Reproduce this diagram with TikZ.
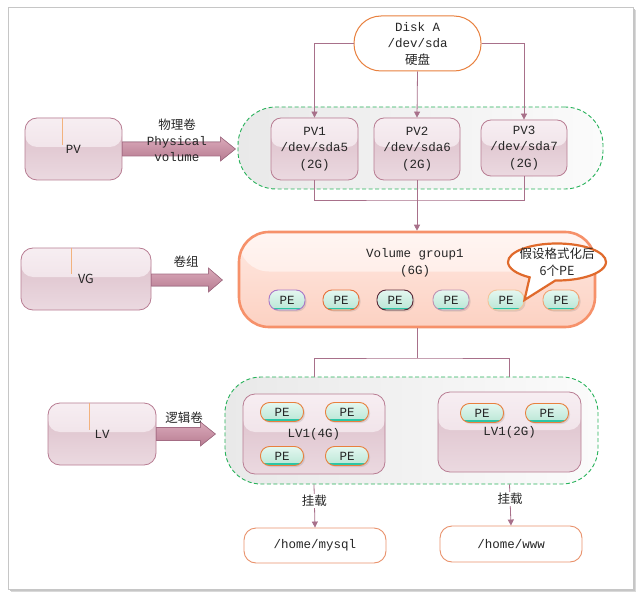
\documentclass[tikz,border=0pt]{standalone}
\usepackage{fontspec}
\setmonofont{Liberation Mono}
\newfontfamily\cjk{Noto Sans CJK SC}
\usetikzlibrary{arrows.meta,shapes.callouts,shadows}
\definecolor{textcol}{HTML}{262626}
\definecolor{conncol}{HTML}{A8708A}
\definecolor{pinkborder}{HTML}{B87D93}
\definecolor{pinkA}{HTML}{DABCC7}
\definecolor{pinkB}{HTML}{EBD9E0}
\definecolor{pinkhiA}{HTML}{F7EEF2}
\definecolor{pinkhiB}{HTML}{EBDAE1}
\definecolor{greencol}{HTML}{27B25A}
\definecolor{contA}{HTML}{E9E9E9}
\definecolor{contB}{HTML}{FBFBFB}
\definecolor{vgborder}{HTML}{F6916A}
\definecolor{vgA}{HTML}{FFE9E2}
\definecolor{vgB}{HTML}{FCD1C2}
\definecolor{peA}{HTML}{E4F7F0}
\definecolor{peB}{HTML}{B9E6D5}
\definecolor{peline}{HTML}{2CC6A6}
\definecolor{orangeline}{HTML}{E8803E}
\definecolor{mountcol}{HTML}{E9926C}
\definecolor{fatA}{HTML}{DAAABA}
\definecolor{fatB}{HTML}{B77B91}
\definecolor{fatborder}{HTML}{A46C84}
\definecolor{tickcol}{HTML}{F2B27E}
\definecolor{calloutcol}{HTML}{E06A2C}
\definecolor{peb1}{HTML}{A878C8}
\definecolor{peb2}{HTML}{E8703A}
\definecolor{peb3}{HTML}{5A2838}
\definecolor{peb4}{HTML}{C092B2}
\definecolor{peb5}{HTML}{F2C49A}
\definecolor{peb6}{HTML}{F2A274}
\tikzset{
  txt/.style={text=textcol, font=\fontsize{12.5}{16.5}\selectfont\ttfamily, align=center, inner sep=0pt},
  cjktxt/.style={text=textcol, font=\fontsize{12.5}{16.5}\selectfont\cjk, align=center, inner sep=0pt},
  pinkbox/.style={txt, draw=pinkborder, line width=0.8pt, rounded corners=#1,
    top color=pinkA, bottom color=pinkB,
    path picture={\shade[top color=pinkhiA, bottom color=pinkhiB]
      (path picture bounding box.north west) rectangle ([yshift=2pt]path picture bounding box.east);}},
  pinkbox/.default=10pt,
  cont/.style={draw=greencol, dash pattern=on 4pt off 2.5pt, line width=0.9pt,
    rounded corners=#1, left color=contA, right color=contB, inner sep=0pt},
  pe/.style={txt, draw=#1, line width=0.9pt, rounded corners=9pt,
    minimum width=36pt, minimum height=20pt, top color=peA, bottom color=peB,
    drop shadow={shadow xshift=1.5pt, shadow yshift=-1.5pt, opacity=0.22},
    path picture={\draw[peline, line width=1.4pt]
      ([yshift=1.6pt]path picture bounding box.south west) -- ([yshift=1.6pt]path picture bounding box.south east);}},
  lvpe/.style={pe=orangeline, minimum width=43pt, minimum height=19pt},
  mount/.style={txt, draw=mountcol, line width=0.9pt, rounded corners=12pt, fill=white,
    minimum width=142pt, minimum height=35pt},
  conn/.style={draw=conncol, line width=0.8pt},
  arr/.style={conn, -{Triangle[length=6pt,width=6pt]}},
  fatarrow/.style={draw=fatborder, line width=0.6pt, top color=fatA, bottom color=fatB},
  tickline/.style={draw=tickcol, line width=0.6pt},
}
\begin{document}
\begin{tikzpicture}[x=1pt,y=-1pt]
\useasboundingbox (0,0) rectangle (642,596);
% frame
\fill[gray!30] (11,10) rectangle (636,592);
\fill[gray!45] (10,9) rectangle (634.5,590.5);
\filldraw[fill=white, draw=gray!45, line width=0.6pt] (8,7) rectangle (633,589);

% containers
\node[cont=38pt, minimum width=365pt, minimum height=82pt] (pvcont) at (420.5,148) {};
\node[cont=36pt, minimum width=373pt, minimum height=107pt] (lvcont) at (411.5,430.5) {};

% disk
\node[txt, draw=orangeline, line width=1pt, fill=white, rounded corners=27pt,
  minimum width=127pt, minimum height=55pt] (disk) at (417.5,43.5)
  {Disk A\\/dev/sda\\{\cjk 硬盘}};

% PV row
\node[pinkbox=12pt, minimum width=97pt, minimum height=62pt] (pv) at (73.5,149) {PV};
\node[pinkbox, minimum width=87pt, minimum height=62pt] (pv1) at (314.5,149) {PV1\\/dev/sda5\\(2G)};
\node[pinkbox, minimum width=86pt, minimum height=62pt] (pv2) at (417,149) {PV2\\/dev/sda6\\(2G)};
\node[pinkbox, minimum width=86pt, minimum height=56pt] (pv3) at (524,148) {PV3\\/dev/sda7\\(2G)};
\draw[tickline] ([xshift=-11.5pt]pv.north) -- ++(0,27);

% PV fat arrow
\filldraw[fatarrow] (pv.east) ++(0,-7) -- ++(98,0) -- ++(0,-5) -- ++(15,12) -- ++(-15,12) -- ++(0,-5) -- ++(-98,0) -- cycle;
\node[cjktxt] (pvlbl) at (177,125) {物理卷};
\node[txt] (pvlbl2) at (177,149) {Physical\\volume};

% connectors disk -> PV
\draw[arr] (disk.west) -| (pv1.north);
\draw[arr] (disk.south) -- (pv2.north);
\draw[arr] (disk.east) -| (pv3.north);

% VG
\node[txt, draw=vgborder, line width=2.6pt, rounded corners=30pt,
  minimum width=356pt, minimum height=95pt, top color=vgA, bottom color=vgB,
  path picture={\shade[top color=white!55!vgA, bottom color=vgA!85!vgB]
    (path picture bounding box.north west) rectangle ([yshift=8pt]path picture bounding box.east);}]
  (vg) at (417,279.5) {};
\node[txt] (vgtxt) at (415,263) {Volume group1\\(6G)};
\node[pinkbox=12pt, cjktxt, minimum width=130pt, minimum height=62pt] (vgl) at (86,279) {VG};
\draw[tickline] ([xshift=-15pt]vgl.north) -- ++(0,26);
\filldraw[fatarrow] (vgl.east) ++(0,-5) -- ++(57,0) -- ++(0,-6) -- ++(14,12) -- ++(-14,12) -- ++(0,-6) -- ++(-57,0) -- cycle;
\node[cjktxt] (vglbl) at (186,262) {卷组};

\coordinate (j1) at (417,200);
\draw[conn] (pv1.south) |- (j1) -| (pv3.south);
\draw[arr] (pv2.south) -- (vg.north);

% PEs in VG
\node[pe=peb1] (pe1) at (287,300) {PE};
\node[pe=peb2] (pe2) at (341,300) {PE};
\node[pe=peb3] (pe3) at (395,300) {PE};
\node[pe=peb4] (pe4) at (451,300) {PE};
\node[pe=peb5] (pe5) at (506,300) {PE};
\node[pe=peb6] (pe6) at (561,300) {PE};

% callout
\node[ellipse callout, draw=calloutcol, line width=2.2pt, fill=white, inner sep=0pt,
  minimum width=98pt, minimum height=37pt, callout pointer arc=32,
  callout absolute pointer={(pe5.east)}] (callout) at (557,262) {};
\node[cjktxt] (callouttxt) at (callout.center) {假设格式化后\\6个PE};

% VG -> LV connectors
\coordinate (j2) at (417,358);
\draw[conn] (vg.south) -- (j2);

% LV boxes
\node[pinkbox=12pt, minimum width=142pt, minimum height=80pt] (lv4) at (314,434) {LV1(4G)};
\node[pinkbox=12pt, minimum width=143pt, minimum height=80pt] (lv2) at (509.5,432) {LV1(2G)};
\draw[conn] (lv4.north |- lvcont.north) |- (j2) -| (lv2.north |- lvcont.north);
\node[lvpe] (lpe1) at (282,412) {PE};
\node[lvpe] (lpe2) at (347,412) {PE};
\node[lvpe] (lpe3) at (282,456) {PE};
\node[lvpe] (lpe4) at (347,456) {PE};
\node[lvpe] (lpe5) at (482,413) {PE};
\node[lvpe] (lpe6) at (547,413) {PE};

\node[pinkbox=12pt, minimum width=108pt, minimum height=62pt] (lvl) at (102,434) {LV};
\draw[tickline] ([xshift=-13pt]lvl.north) -- ++(0,27);
\filldraw[fatarrow] (lvl.east) ++(0,-6.5) -- ++(44,0) -- ++(0,-5.5) -- ++(15,12) -- ++(-15,12) -- ++(0,-5.5) -- ++(-44,0) -- cycle;
\node[cjktxt] (lvlbl) at (184,418) {逻辑卷};

% mounts
\node[mount] (mysql) at (315,545.5) {/home/mysql};
\node[mount, minimum height=36pt] (www) at (511,544) {/home/www};
\draw[arr] (lv4.south |- lvcont.south) -- node[cjktxt, fill=white, inner sep=1.5pt, pos=0.38] (m1) {挂载} (mysql.north);
\draw[arr] (lv2.south |- lvcont.south) -- node[cjktxt, fill=white, inner sep=1.5pt, pos=0.35] (m2) {挂载} (www.north);
\end{tikzpicture}
\end{document}
